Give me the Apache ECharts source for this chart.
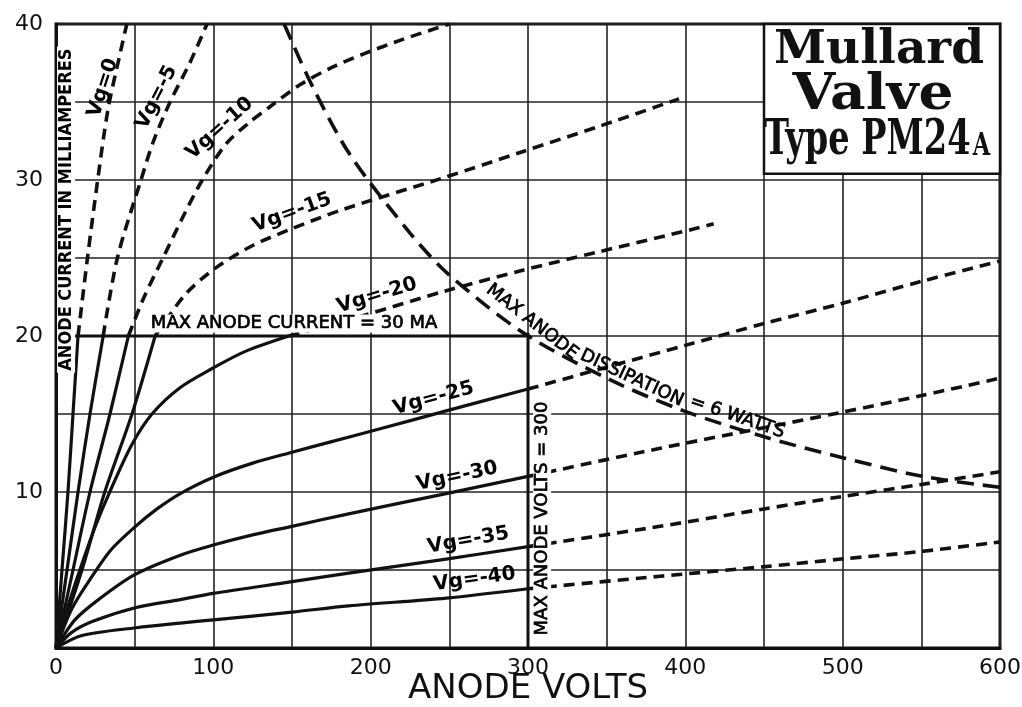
<!DOCTYPE html>
<html><head><meta charset="utf-8">
<script src="https://cdn.jsdelivr.net/npm/echarts@6/dist/echarts.min.js"></script>
<style>html,body{margin:0;padding:0;background:#fff}#c{width:1022px;height:707px}</style>
</head><body><div id="c"></div>
<script>
// ---- data (anode volts, anode current mA) ----
const xTickStep = 50;           // grid every 50 V, labels every 100 V
const yTickStep = 5;            // grid every 5 mA, labels every 10 mA
const vg0Solid  = [[0,0],[3.8,5],[7.6,10],[10.8,15],[14,20]];
const vg0Dash   = [[14,20],[20,25],[26.5,30],[33,34.5],[40.5,38],[45,40]];
const vg5Solid  = [[0,0],[7,5],[14,10],[21.6,15],[30,20]];
const vg5Dash   = [[30,20],[39,25],[54,30],[62,32.5],[72.5,35],[85,37.5],[96,40]];
const vg10Solid = [[0,0],[10.8,5],[21.6,10],[34.3,15],[46,20]];
const vg10Dash  = [[46,20],[56,22.5],[68,25],[80,27.5],[93,30],[108,32.3],[123,33.7],[136,34.7],[155,36.1],[175,37.2],[196,38.1],[220,39],[250,40]];
const vg15Solid = [[0,0],[16.5,5],[31,10],[48.3,15],[63,20]];
const vg15Dash  = [[63,20],[82.5,22.7],[102,24.4],[125,25.8],[148,26.8],[182,28.1],[245,30.1],[296,31.8],[347,33.5],[396,35.2]];
const vg20Solid = [[0,0],[8,2.8],[16.5,5.4],[25,7.8],[33.7,9.9],[48,13],[61,15],[79,16.7],[99,17.9],[120,19],[148,20]];
const vg20Dash  = [[148,20],[195,21.3],[248,22.9],[296,24.2],[345,25.4],[407,26.9],[418,27.2]];
const vg25Solid = [[0,0],[10,2.5],[23,4.6],[35,6.3],[50,7.75],[64,8.9],[79,9.9],[100,10.95],[125,11.85],[150,12.55],[174,13.2],[206,14.05],[248,15.2],[300,16.6]];
const vg25Dash  = [[300,16.6],[350,18],[400,19.4],[450,20.8],[500,22.1],[550,23.5],[600,24.8]];
const vg30Solid = [[0,0],[12,1.8],[27,3.1],[50,4.7],[79,5.95],[100,6.6],[125,7.25],[150,7.8],[186,8.6],[248,9.9],[300,11]];
const vg30Dash  = [[300,11],[384,12.8],[449,14.1],[499,15.1],[551,16.2],[600,17.3]];
const vg35Solid = [[0,0],[10,1],[23,1.7],[51,2.6],[79,3.1],[100,3.5],[150,4.25],[186,4.8],[248,5.7],[300,6.5]];
const vg35Dash  = [[300,6.5],[384,7.8],[449,8.9],[499,9.7],[551,10.5],[600,11.3]];
const vg40Solid = [[0,0],[16.5,0.8],[51,1.3],[79,1.6],[100,1.8],[150,2.3],[186,2.7],[248,3.2],[300,3.8]];
const vg40Dash  = [[300,3.8],[384,4.6],[449,5.2],[499,5.7],[551,6.2],[600,6.8]];
const dissipation = [[145,40],[163,36],[187,31.6],[225,26.6],[249,24],[297,20.2],[352,17.2],[399,15.2],[448,13.6],[500,12.2],[551,11],[600,10.3]];
const maxCurrent = [[0,20],[300,20]];
const maxVolts   = [[300,0],[300,20.2]];
const titleBox   = [[450,30.4],[600,40]];
const titleLines = ['Mullard','Valve','Type PM24','A'];
const xName = 'ANODE VOLTS';
// annotations: text, anchor (V, mA), rotation
const annotTexts = ['Vg=0','Vg=-5','Vg=-10','Vg=-15','Vg=-20','Vg=-25','Vg=-30','Vg=-35','Vg=-40',
  'MAX ANODE CURRENT = 30 MA','MAX ANODE VOLTS = 300','MAX ANODE','DISSIPATION','= 6 WATTS','ANODE CURRENT IN MILLIAMPERES'];
const annotAt = [[29.9,35.9],[64,35.3],[104,33.3],[150,27.9],[204,22.6],[240,16],[255,11],[262,6.9],[266,4.4],
  [151.3,20.8],[309,8.3],[302.6,20.9],[366,17.3],[433,14.8],[6.4,28.1]];
const annotAngle = [72,63,42,20,17,15,12,10,8, 0,90,-38,-25,-19,90];

// ---- chart ----
const chart = echarts.init(document.getElementById('c'), null, {renderer:'canvas'});
const INK = '#111';
const DASH = [11,7];
function curve(data, dashed, width){
  return {type:'line', data:data, showSymbol:false, symbol:'none', smooth:0.3,
    silent:true, z:3,
    lineStyle:{color:INK, width:width||(dashed?3.6:3.2), type:dashed?DASH:'solid', cap:'butt', join:'round'}};
}
const series = [
  curve(vg0Solid,false), curve(vg0Dash,true),
  curve(vg5Solid,false), curve(vg5Dash,true),
  curve(vg10Solid,false), curve(vg10Dash,true),
  curve(vg15Solid,false), curve(vg15Dash,true),
  curve(vg20Solid,false), curve(vg20Dash,true),
  curve(vg25Solid,false), curve(vg25Dash,true),
  curve(vg30Solid,false), curve(vg30Dash,true),
  curve(vg35Solid,false), curve(vg35Dash,true),
  curve(vg40Solid,false), curve(vg40Dash,true),
  Object.assign(curve(dissipation,true,3.6), {lineStyle:{color:INK,width:3.6,type:[17,9],cap:'butt'}}),
  {type:'line', data:maxCurrent, showSymbol:false, silent:true, z:3, lineStyle:{color:INK,width:3}},
  {type:'line', data:maxVolts, showSymbol:false, silent:true, z:3, lineStyle:{color:INK,width:3}},
  {type:'line', data:[], silent:true, z:4,
    markArea:{silent:true, itemStyle:{color:'#fff', borderColor:INK, borderWidth:2.5},
      data:[[{coord:titleBox[0]},{coord:titleBox[1]}]]}},
  {type:'scatter', silent:true, z:6, symbolSize:1, itemStyle:{color:'rgba(0,0,0,0)'},
    data: annotTexts.map((t,i)=>{
      const bg = (i===10||i===14||i===9);
      const vg = i<9;
      return {value:annotAt[i], label:{show:true, position:'inside', formatter:t, rotate:annotAngle[i],
        color:'#000', opacity:1, fontWeight: (vg||i===14) ? 'bold' : 'normal',
        textBorderColor:'#000', textBorderWidth: (vg||i===14) ? 0 : 0.7,
        fontFamily: (i===14) ? 'DejaVu Sans Condensed' : 'DejaVu Sans',
        fontSize: vg ? 20 : (i===14 ? 18 : 18),
        backgroundColor: bg ? '#fff' : 'transparent', padding: bg ? [0,2] : 0}};
    })}
];

chart.setOption({
  animation:false,
  backgroundColor:'#fff',
  grid:{left:56, right:22, top:24, bottom:59, containLabel:false, outerBoundsMode:'none',
    show:true, borderColor:INK, borderWidth:3, backgroundColor:'#fff'},
  xAxis:{type:'value', min:0, max:600, interval:xTickStep,
    name:xName, nameLocation:'middle', nameGap:24, nameMoveOverlap:false,
    nameTextStyle:{fontFamily:'DejaVu Sans', fontSize:34, color:INK},
    axisLine:{show:true, lineStyle:{color:INK, width:3}}, axisTick:{show:false},
    axisLabel:{margin:9, color:INK, fontFamily:'DejaVu Sans', fontSize:22,
      formatter:v=> v%100===0 ? String(v) : ''},
    splitLine:{show:true, lineStyle:{color:'#222', width:1.6}}},
  yAxis:{type:'value', min:0, max:40, interval:yTickStep,
    axisLine:{show:true, lineStyle:{color:INK, width:3}}, axisTick:{show:false},
    axisLabel:{margin:13, color:INK, fontFamily:'DejaVu Sans', fontSize:22,
      formatter:v=> (v%10===0 && v>0) ? String(v) : ''},
    splitLine:{show:true, lineStyle:{color:'#222', width:1.6}}},
  graphic:[
    {type:'text', x:879, y:51, z:100, style:{text:titleLines[0], fill:INK, font:'bold 47px "DejaVu Serif"', textAlign:'center', textVerticalAlign:'middle'}},
    {type:'text', x:873, y:96, z:100, scaleX:1.1, style:{text:titleLines[1], fill:INK, font:'bold 50px "DejaVu Serif"', textAlign:'center', textVerticalAlign:'middle'}},
    {type:'text', x:877, y:142, z:100, scaleX:0.7, style:{text:'{a|'+titleLines[2]+'}{b|'+titleLines[3]+'}', textAlign:'center', textVerticalAlign:'middle',
      rich:{a:{fontFamily:'DejaVu Serif', fontWeight:'bold', fontSize:48, fill:INK, color:INK},
            b:{fontFamily:'DejaVu Serif', fontWeight:'bold', fontSize:32, fill:INK, color:INK, verticalAlign:'bottom', padding:[0,0,3,3]}}}}
  ],
  series:series
});
</script></body></html>
